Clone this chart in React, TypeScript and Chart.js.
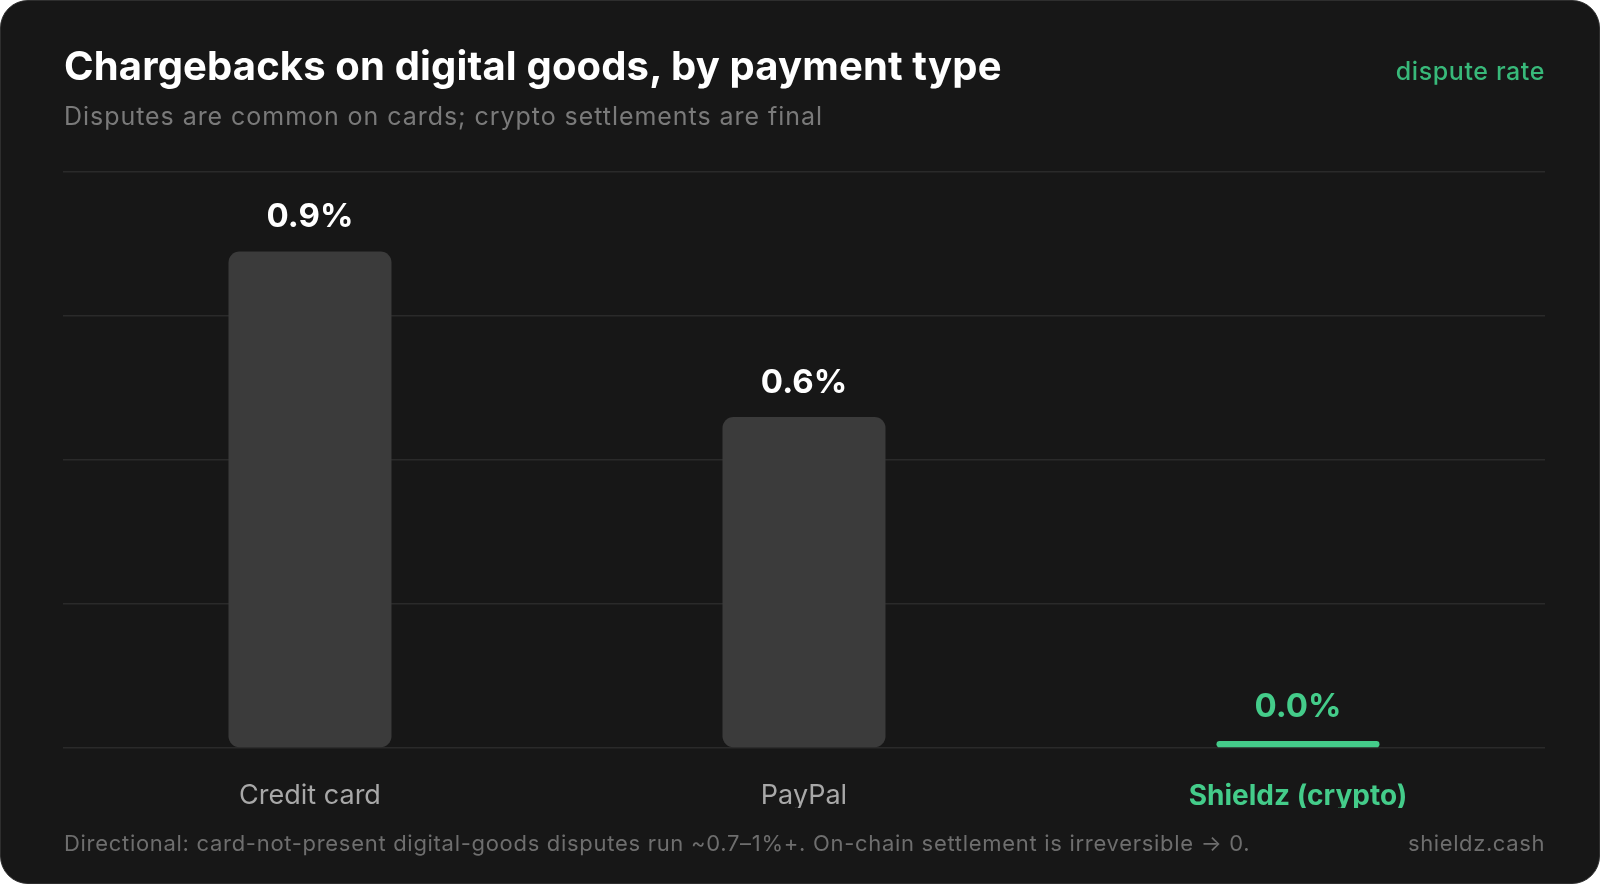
import React, { useEffect, useRef } from "react";
import Chart from "chart.js/auto";

const categories = ["Credit card", "PayPal", "Shieldz (crypto)"];
const disputeRates = [0.9, 0.6, 0.0];
const highlightIndex = 2;
const axisMax = 1.044;

const GREEN = "#44cc8a";
const FONT = "Inter, 'Noto Sans', sans-serif";

const App = () => {
  const chartRef = useRef<HTMLCanvasElement>(null);

  useEffect(() => {
    document.body.style.margin = "0";
    const ctx = chartRef.current?.getContext("2d");
    if (!ctx) return;

    // value labels above bars
    const valueLabels = {
      id: "valueLabels",
      afterDatasetsDraw(chart: any) {
        const c = chart.ctx;
        const meta = chart.getDatasetMeta(0);
        c.save();
        c.font = `700 33px ${FONT}`;
        c.textAlign = "center";
        c.textBaseline = "middle";
        meta.data.forEach((bar: any, i: number) => {
          c.fillStyle = i === highlightIndex ? GREEN : "#ffffff";
          const top = Math.min(bar.y, bar.base);
          c.fillText(disputeRates[i].toFixed(1) + "%", bar.x, top - 34);
        });
        c.restore();
      },
    };

    const chart = new Chart(ctx, {
      type: "bar",
      data: {
        labels: categories,
        datasets: [
          {
            label: "dispute rate",
            data: disputeRates,
            backgroundColor: categories.map((_, i) => (i === highlightIndex ? GREEN : "#3b3b3b")),
            borderRadius: 11,
            borderSkipped: false,
            barPercentage: 0.33,
            categoryPercentage: 1,
            minBarLength: 7,
          },
        ],
      },
      options: {
        animation: false,
        responsive: false,
        layout: { padding: { left: 63, right: 55, top: 172, bottom: 76 } },
        plugins: { legend: { display: false }, tooltip: { enabled: false } },
        scales: {
          x: {
            grid: { display: false },
            border: { display: false },
            afterFit: (s: any) => {
              s.height = 60;
            },
            ticks: {
              padding: 24,
              color: (c: any) => (c.index === highlightIndex ? GREEN : "#a8a8a8"),
              font: (c: any) => ({
                family: FONT,
                size: c.index === highlightIndex ? 28 : 27,
                weight: c.index === highlightIndex ? "bold" : "normal",
              }),
            },
          },
          y: {
            min: 0,
            max: axisMax,
            border: { display: false },
            grid: { color: "#2a2a2a", lineWidth: 1.5, drawTicks: false },
            ticks: { display: false },
            afterBuildTicks: (s: any) => {
              s.ticks = [0, 1, 2, 3, 4].map((i) => ({ value: (axisMax * i) / 4 }));
            },
          },
        },
      },
      plugins: [valueLabels],
    });

    return () => chart.destroy();
  }, []);

  const text = (style: React.CSSProperties, children: React.ReactNode) => (
    <div style={{ position: "absolute", fontFamily: FONT, whiteSpace: "nowrap", ...style }}>{children}</div>
  );

  return (
    <div style={{ position: "fixed", left: 0, top: 0, width: 1600, height: 884, background: "#ffffff" }}>
      <div
        style={{
          position: "absolute",
          left: 0,
          top: 0,
          width: 1598,
          height: 882,
          background: "#171717",
          border: "1px solid #2e2e2e",
          borderRadius: 28,
        }}
      />
      <canvas ref={chartRef} width={1600} height={884} style={{ position: "absolute", left: 0, top: 0 }} />
      {text({ left: 64, top: 42, fontSize: 40, fontWeight: 700, color: "#ffffff", lineHeight: "48px", letterSpacing: "0.15px" }, "Chargebacks on digital goods, by payment type")}
      {text({ left: 64, top: 100, fontSize: 25, color: "#7a7a7a", lineHeight: "32px", letterSpacing: "0.95px" }, "Disputes are common on cards; crypto settlements are final")}
      {text({ right: 55, top: 55, fontSize: 25, fontWeight: 500, color: "#38b97a", lineHeight: "32px", letterSpacing: "0.6px" }, "dispute rate")}
      {text({ left: 64, top: 829, fontSize: 22, color: "#6e6e6e", lineHeight: "28px", letterSpacing: "0.7px" }, "Directional: card-not-present digital-goods disputes run ~0.7–1%+. On-chain settlement is irreversible → 0.")}
      {text({ right: 55, top: 829, fontSize: 22, color: "#6e6e6e", lineHeight: "28px", letterSpacing: "0.6px" }, "shieldz.cash")}
    </div>
  );
};

export default App;
